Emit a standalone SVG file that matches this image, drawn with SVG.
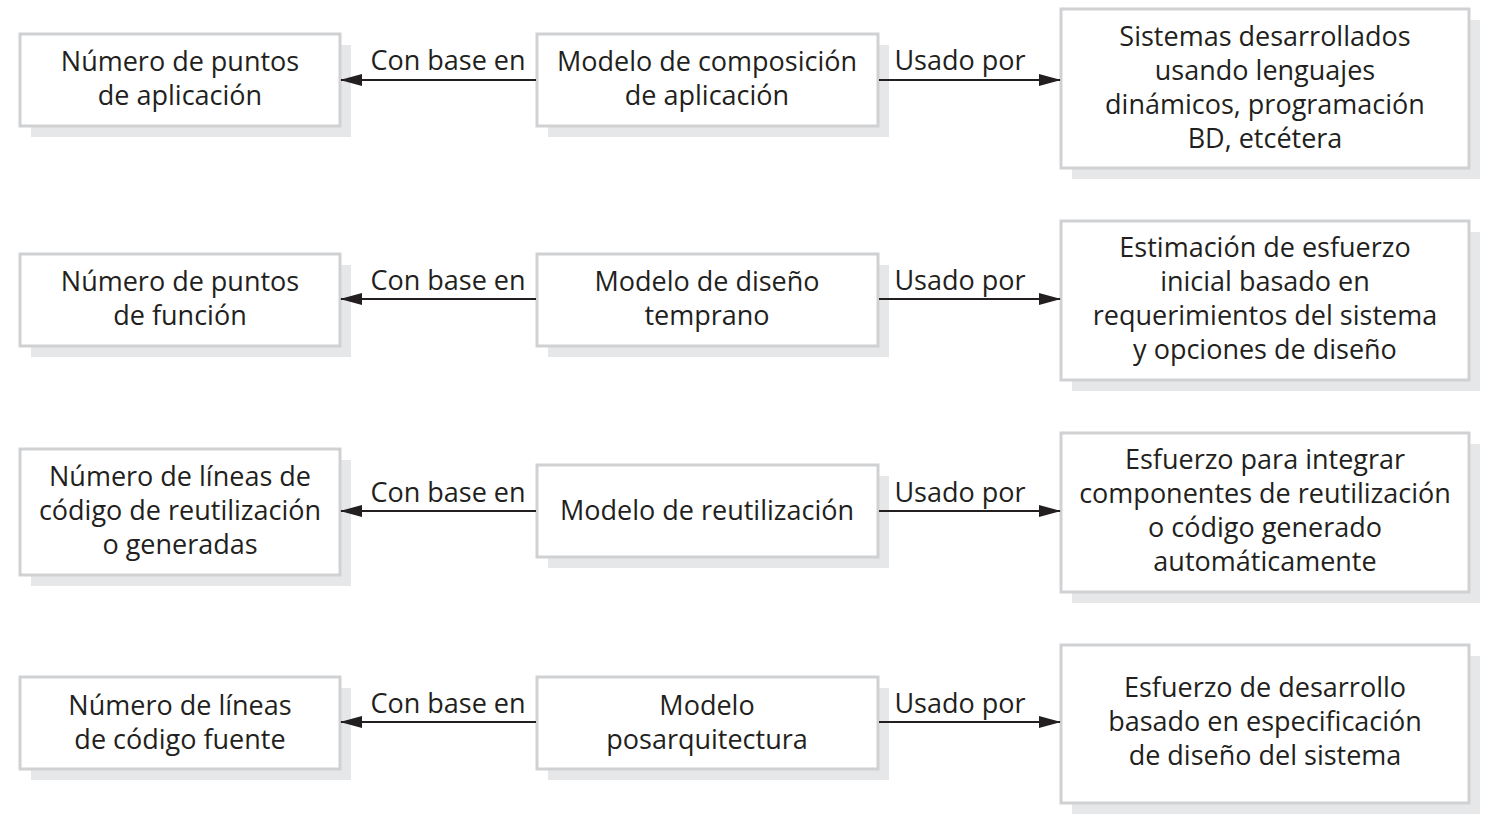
<svg xmlns="http://www.w3.org/2000/svg" width="1485" height="823" viewBox="0 0 1485 823">
<style>
.shadow{fill:#e6e7e8;}
.box{fill:#ffffff;stroke:#d0d1d3;stroke-width:3;}
text{font-family:"Open Sans","Noto Sans","Liberation Sans",sans-serif;font-size:27px;fill:#231f20;text-anchor:middle;}
.conn{stroke:#231f20;stroke-width:2;fill:none;}
</style>
<defs>
<marker id="ah" markerWidth="22" markerHeight="12" refX="21" refY="6" orient="auto" markerUnits="userSpaceOnUse">
<path d="M0,0 L22,6 L0,12 Z" fill="#231f20"/>
</marker>
</defs>
<rect width="1485" height="823" fill="#ffffff"/>

<g id="n1a"><rect class="shadow" x="31" y="45" width="320" height="92"/><rect class="box" x="20" y="34" width="320" height="92"/><text x="180" y="71">Número de puntos</text><text x="180" y="105">de aplicación</text></g>
<g id="n1b"><rect class="shadow" x="548" y="45" width="341" height="92"/><rect class="box" x="537" y="34" width="341" height="92"/><text x="707" y="71">Modelo de composición</text><text x="707" y="105">de aplicación</text></g>
<g id="n1c"><rect class="shadow" x="1072" y="20" width="408" height="159"/><rect class="box" x="1061" y="9" width="408" height="159"/><text x="1265" y="46">Sistemas desarrollados</text><text x="1265" y="80">usando lenguajes</text><text x="1265" y="114">dinámicos, programación</text><text x="1265" y="148">BD, etcétera</text></g>

<g id="n2a"><rect class="shadow" x="31" y="265" width="320" height="92"/><rect class="box" x="20" y="254" width="320" height="92"/><text x="180" y="291">Número de puntos</text><text x="180" y="325">de función</text></g>
<g id="n2b"><rect class="shadow" x="548" y="265" width="341" height="92"/><rect class="box" x="537" y="254" width="341" height="92"/><text x="707" y="291">Modelo de diseño</text><text x="707" y="325">temprano</text></g>
<g id="n2c"><rect class="shadow" x="1072" y="232" width="408" height="159"/><rect class="box" x="1061" y="221" width="408" height="159"/><text x="1265" y="257">Estimación de esfuerzo</text><text x="1265" y="291">inicial basado en</text><text x="1265" y="325">requerimientos del sistema</text><text x="1265" y="359">y opciones de diseño</text></g>

<g id="n3a"><rect class="shadow" x="31" y="460" width="320" height="126"/><rect class="box" x="20" y="449" width="320" height="126"/><text x="180" y="486">Número de líneas de</text><text x="180" y="520">código de reutilización</text><text x="180" y="554">o generadas</text></g>
<g id="n3b"><rect class="shadow" x="548" y="476" width="341" height="92"/><rect class="box" x="537" y="465" width="341" height="92"/><text x="707" y="520">Modelo de reutilización</text></g>
<g id="n3c"><rect class="shadow" x="1072" y="444" width="408" height="159"/><rect class="box" x="1061" y="433" width="408" height="159"/><text x="1265" y="469">Esfuerzo para integrar</text><text x="1265" y="503">componentes de reutilización</text><text x="1265" y="537">o código generado</text><text x="1265" y="571">automáticamente</text></g>

<g id="n4a"><rect class="shadow" x="31" y="688" width="320" height="92"/><rect class="box" x="20" y="677" width="320" height="92"/><text x="180" y="715">Número de líneas</text><text x="180" y="749">de código fuente</text></g>
<g id="n4b"><rect class="shadow" x="548" y="688" width="341" height="92"/><rect class="box" x="537" y="677" width="341" height="92"/><text x="707" y="715">Modelo</text><text x="707" y="749">posarquitectura</text></g>
<g id="n4c"><rect class="shadow" x="1072" y="656" width="408" height="158"/><rect class="box" x="1061" y="645" width="408" height="158"/><text x="1265" y="697">Esfuerzo de desarrollo</text><text x="1265" y="731">basado en especificación</text><text x="1265" y="765">de diseño del sistema</text></g>

<g id="connectors">
<line class="conn" x1="536" y1="80" x2="341" y2="80" marker-end="url(#ah)"/>
<line class="conn" x1="879" y1="80" x2="1060" y2="80" marker-end="url(#ah)"/>
<line class="conn" x1="536" y1="299" x2="341" y2="299" marker-end="url(#ah)"/>
<line class="conn" x1="879" y1="299" x2="1060" y2="299" marker-end="url(#ah)"/>
<line class="conn" x1="536" y1="511" x2="341" y2="511" marker-end="url(#ah)"/>
<line class="conn" x1="879" y1="511" x2="1060" y2="511" marker-end="url(#ah)"/>
<line class="conn" x1="536" y1="722" x2="341" y2="722" marker-end="url(#ah)"/>
<line class="conn" x1="879" y1="722" x2="1060" y2="722" marker-end="url(#ah)"/>
<text x="448" y="70">Con base en</text><text x="960" y="70">Usado por</text>
<text x="448" y="290">Con base en</text><text x="960" y="290">Usado por</text>
<text x="448" y="502">Con base en</text><text x="960" y="502">Usado por</text>
<text x="448" y="713">Con base en</text><text x="960" y="713">Usado por</text>
</g>
</svg>
